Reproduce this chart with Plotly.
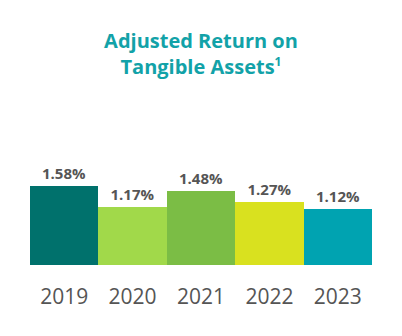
import plotly.graph_objects as go

years = ["2019", "2020", "2021", "2022", "2023"]
values = [1.58, 1.17, 1.48, 1.27, 1.12]
labels = ["1.58%", "1.17%", "1.48%", "1.27%", "1.12%"]
colors = ["#00716c", "#a1d94a", "#7bbd45", "#d9e11f", "#00a3b1"]

fig = go.Figure(go.Bar(x=years, y=values, marker_color=colors, marker_line_width=0,
                       text=["<b>%s</b>" % l for l in labels], textposition="outside",
                       textfont=dict(family="Open Sans", size=15, color="#555555"),
                       cliponaxis=False, hoverinfo="skip"))

fig.update_layout(
    width=402, height=336,
    margin=dict(l=30, r=30, t=100, b=71),
    paper_bgcolor="white", plot_bgcolor="white",
    bargap=0,
    showlegend=False,
    title=dict(text="<b>Adjusted Return on<br>Tangible Assets<sup><span style='font-size:12px'>1</span></sup></b>",
               x=0.5, xanchor="center", y=0.857, yanchor="top",
               font=dict(family="Open Sans", size=20, color="#12a2a8")),
    xaxis=dict(type="category", showgrid=False, showline=False, zeroline=False,
               ticks="outside", ticklen=13, tickcolor="rgba(0,0,0,0)",
               tickfont=dict(family="Open Sans", size=21, color="#555555")),
    yaxis=dict(range=[0, 3.3], visible=False, showgrid=False, zeroline=False),
)

fig.write_html("out.html")
